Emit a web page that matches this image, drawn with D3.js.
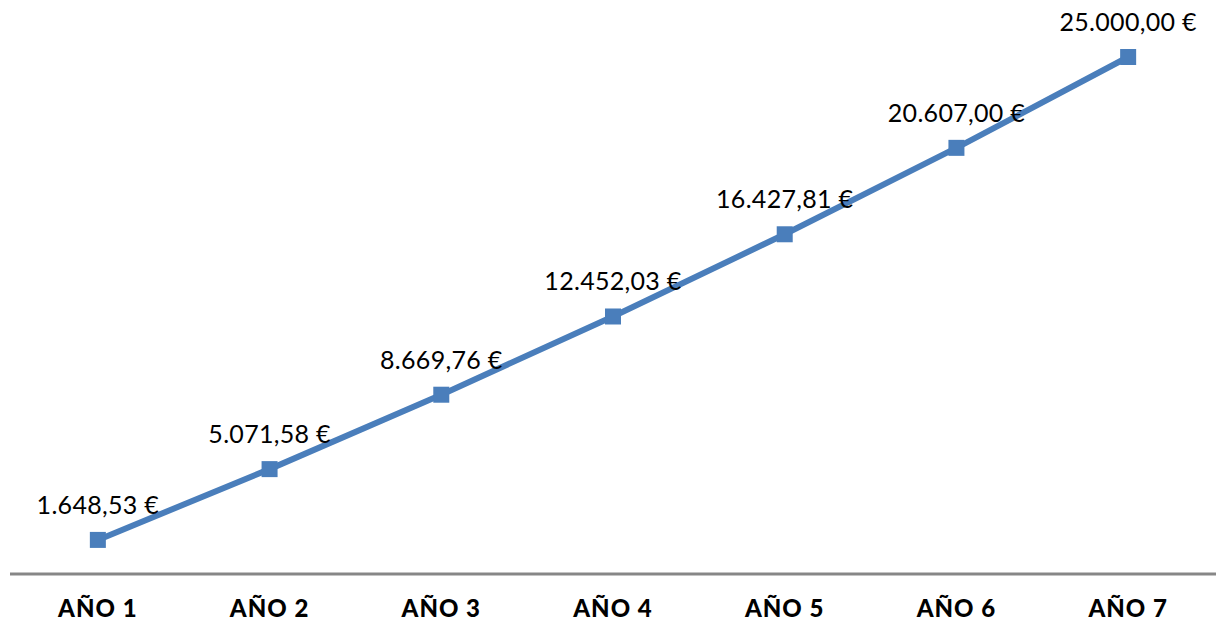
<!DOCTYPE html>
<html>
<head>
<meta charset="utf-8">
<script src="https://cdn.jsdelivr.net/npm/d3@7"></script>
<style>
  body { margin: 0; background: #fff; }
</style>
</head>
<body>
<div id="chart"></div>
<script>
/* DATA */
const years = ["AÑO 1", "AÑO 2", "AÑO 3", "AÑO 4", "AÑO 5", "AÑO 6", "AÑO 7"];
const values = [1648.53, 5071.58, 8669.76, 12452.03, 16427.81, 20607.00, 25000.00];

const width = 1220, height = 624;

const svg = d3.select("#chart").append("svg")
  .attr("width", width)
  .attr("height", height);

const xScale = d3.scalePoint()
  .domain(years)
  .range([12, 1214])
  .padding(0.5);

const yScale = d3.scaleLinear()
  .domain([0, 25000])
  .range([574, 57]);

// euro number format: 1.648,53 €
const fmt = d3.formatLocale({ decimal: ",", thousands: ".", grouping: [3], currency: ["", " €"] }).format(",.2f");

const data = years.map((y, i) => ({ year: y, value: values[i] }));

// x axis line
svg.append("line")
  .attr("x1", 10).attr("x2", 1216)
  .attr("y1", yScale(0)).attr("y2", yScale(0))
  .attr("stroke", "#878787")
  .attr("stroke-width", 3);

// category labels
svg.selectAll(".cat")
  .data(years)
  .join("text")
  .attr("class", "cat")
  .attr("x", d => xScale(d))
  .attr("y", 617)
  .attr("text-anchor", "middle")
  .attr("font-family", "Lato, 'DejaVu Sans', sans-serif")
  .attr("font-weight", "900")
  .attr("font-size", 24)
  .attr("letter-spacing", 1)
  .attr("fill", "#000")
  .text(d => d);

const line = d3.line()
  .x(d => xScale(d.year))
  .y(d => yScale(d.value));

svg.append("path")
  .datum(data)
  .attr("d", line)
  .attr("fill", "none")
  .attr("stroke", "#4a7ebb")
  .attr("stroke-width", 6);

const size = 16;
svg.selectAll(".marker")
  .data(data)
  .join("rect")
  .attr("class", "marker")
  .attr("x", d => xScale(d.year) - size / 2)
  .attr("y", d => yScale(d.value) - size / 2)
  .attr("width", size)
  .attr("height", size)
  .attr("fill", "#4a7ebb");

// data labels
svg.selectAll(".lbl")
  .data(data)
  .join("text")
  .attr("class", "lbl")
  .attr("x", d => xScale(d.year))
  .attr("y", d => yScale(d.value) - 26)
  .attr("text-anchor", "middle")
  .attr("font-family", "Lato, 'DejaVu Sans', sans-serif")
  .attr("font-weight", "400")
  .attr("font-size", 25)
  .attr("letter-spacing", 0.3)
  .attr("fill", "#000")
  .text(d => fmt(d.value) + " €");
</script>
</body>
</html>
